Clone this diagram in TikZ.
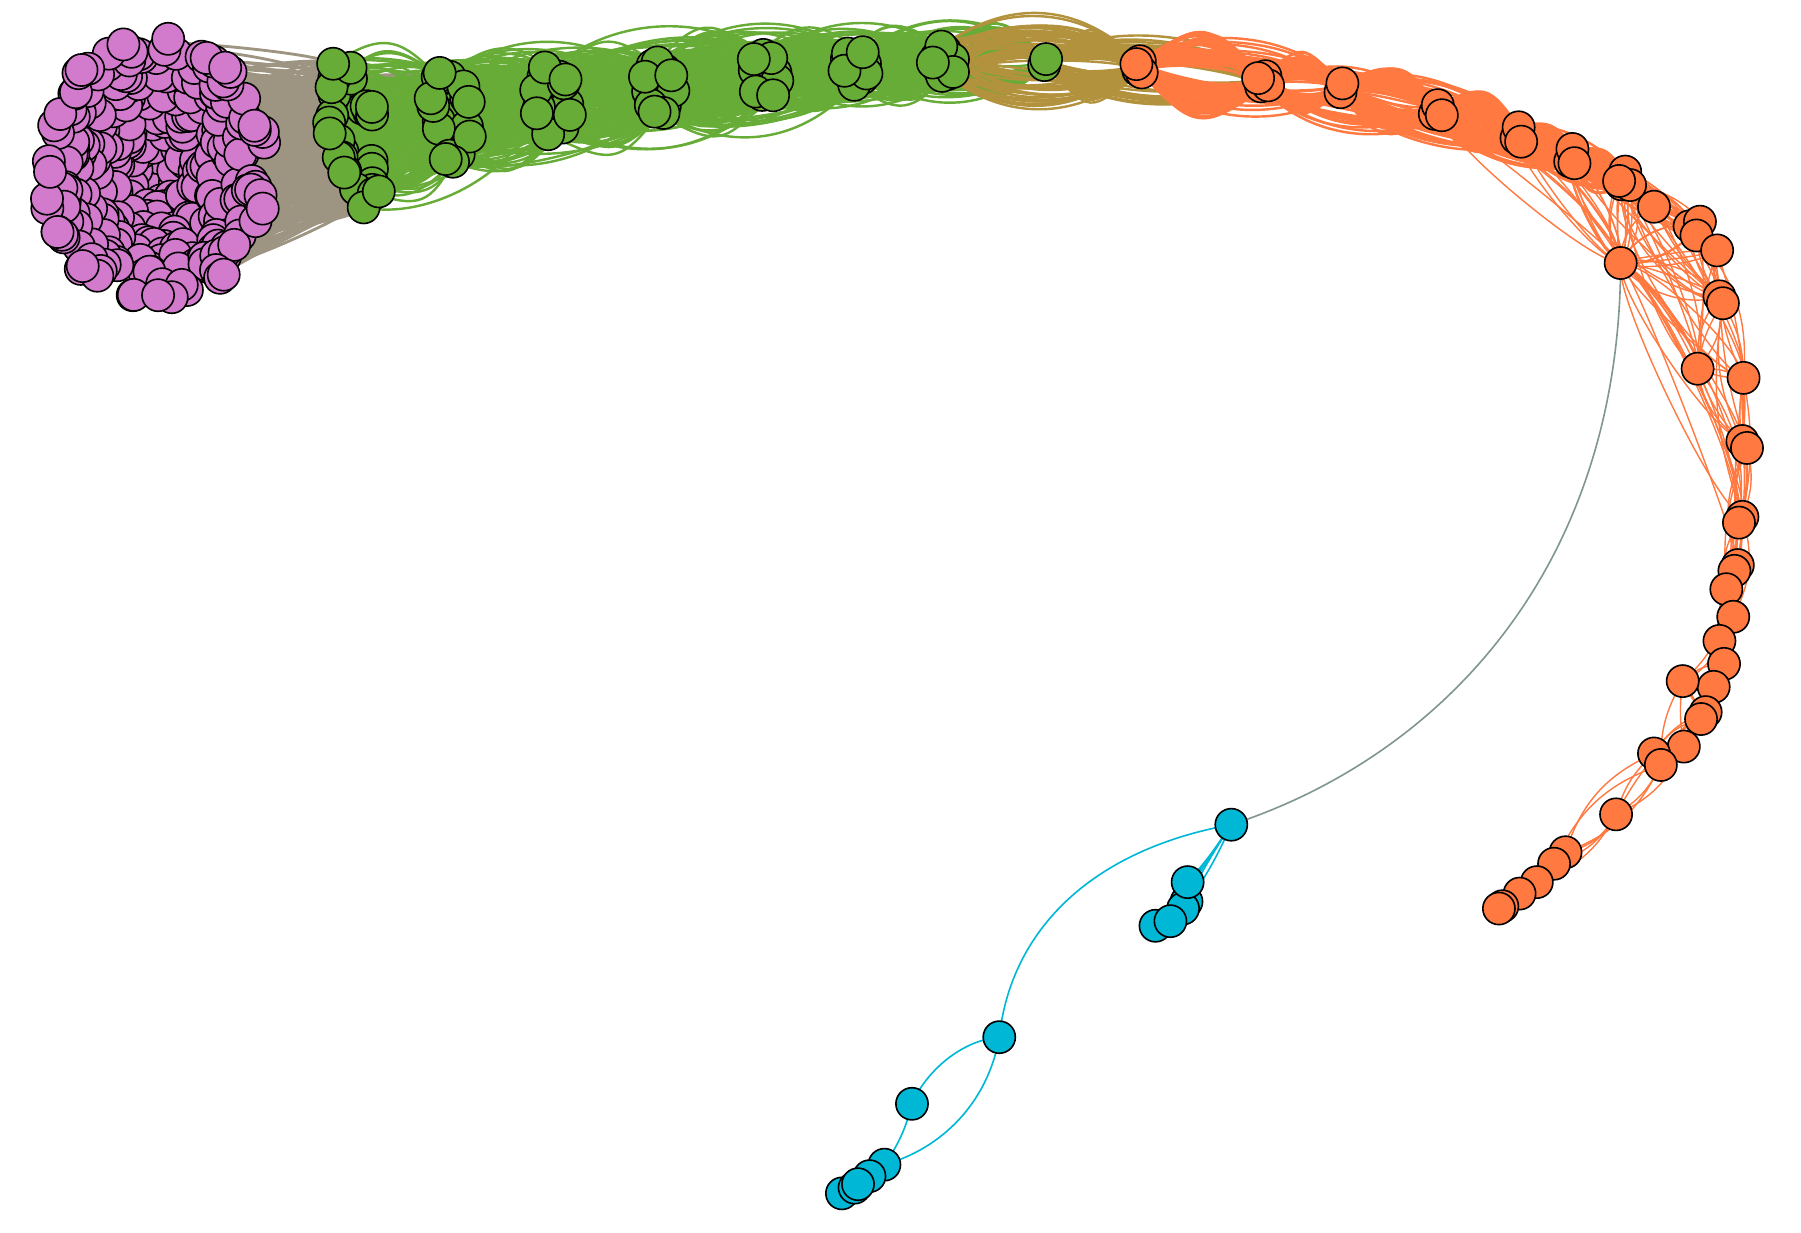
\documentclass[tikz,border=0pt]{standalone}
\pgfdeclarelayer{bg}
\pgfsetlayers{bg,main}
\definecolor{cpurple}{RGB}{210,122,203}
\definecolor{cgreen}{RGB}{103,172,55}
\definecolor{ctan}{RGB}{157,148,130}
\definecolor{cgold}{RGB}{178,146,60}
\definecolor{corange}{RGB}{255,121,64}
\definecolor{ccyan}{RGB}{0,183,214}
\definecolor{cgray}{RGB}{128,150,145}
\tikzset{
  vtx/.style={circle, draw=black, line width=0.4pt, inner sep=0pt, minimum size=0.28cm},
  pv/.style={vtx, fill=cpurple},
  gv/.style={vtx, fill=cgreen},
  ov/.style={vtx, fill=corange},
  bv/.style={vtx, fill=ccyan},
  edg/.style={line width=0.6pt},
  tE/.style={line width=0.7pt, draw=ctan},
  gE/.style={edg, draw=cgreen},
  dE/.style={edg, draw=cgold},
  oE/.style={edg, draw=corange},
  aE/.style={line width=0.35pt, draw=corange},
  cE/.style={line width=0.4pt, draw=ccyan},
  grE/.style={line width=0.4pt, draw=cgray},
}
% name, cx, cy, rx, ry, n, style, inner fraction, shear  (sunflower layout with jitter)
\newcommand\mkcluster[9]{%
  \foreach \k in {1,...,#6}{%
    \edef\cangi{\the\numexpr \k*1375-(\k*1375/3600)*3600\relax}%
    \pgfmathsetmacro\cang{\cangi/10+25*rand}%
    \pgfmathsetmacro\crad{min(1,sqrt(#8+(1-#8)*(\k-0.5)/#6)+0.06*rand)}%
    \pgfmathsetmacro\cdy{#5*\crad*sin(\cang)}%
    \node[#7] (#1-\k) at ({#2+#4*\crad*cos(\cang)+#9*\cdy},{#3+\cdy}) {};
  }}
% A, nA, B, nB, count, style, offset-fraction min, range
\newcommand\mkedges[8]{%
  \foreach \e in {1,...,#5}{%
    \pgfmathrandominteger\ea{1}{#2}%
    \pgfmathrandominteger\eb{1}{#4}%
    \pgfmathsetmacro\ebend{(rnd<0.5 ? -40 : 40)}%
    \pgfmathsetmacro\eloose{(#7+#8*rnd)/0.189}%
    \draw[#6] (#1-\ea.center) to[bend left=\ebend, looseness=\eloose] (#3-\eb.center);
  }}
\begin{document}
\begin{tikzpicture}[x=0.01cm,y=-0.01cm]
\useasboundingbox (0,0) rectangle (1568,1073);
\pgfmathsetseed{11}
% ---------- nodes ----------
\mkcluster{P}{135}{148}{98}{115}{300}{pv}{0}{0}
\mkcluster{Ga}{308}{116}{21}{65}{30}{gv}{0.35}{0.17}
\mkcluster{Gb}{393}{101}{18}{44}{22}{gv}{0.35}{0.12}
\mkcluster{Gc}{481}{88}{16}{33}{18}{gv}{0.35}{0.08}
\mkcluster{Gd}{574}{76}{14}{25}{14}{gv}{0.35}{0.08}
\mkcluster{Ge}{666}{66}{12}{22}{12}{gv}{0.35}{0.05}
\mkcluster{Gf}{745}{58}{11}{18}{10}{gv}{0.35}{0.05}
\mkcluster{Gg}{822}{54}{10}{15}{9}{gv}{0.35}{0}
\mkcluster{Gh}{911}{55}{3}{4}{2}{gv}{0.5}{0}
\mkcluster{Oa}{993}{58}{4}{6}{4}{ov}{0.5}{0}
\mkcluster{Ob}{1100}{71}{6}{6}{4}{ov}{0.5}{0}
\mkcluster{Oc}{1168}{77}{2}{5}{2}{ov}{0.5}{0}
\mkcluster{Od}{1252}{97}{4}{6}{3}{ov}{0.5}{0}
\mkcluster{Oe}{1323}{117}{4}{7}{3}{ov}{0.5}{0}
\mkcluster{Of}{1369}{136}{5}{7}{3}{ov}{0.5}{0}
\mkcluster{Og}{1415}{156}{6}{8}{4}{ov}{0.5}{0}
\foreach \x/\y [count=\i] in {1440/180, 1471/197, 1480/193, 1477/205, 1495/218,
  1497/258, 1500/264, 1478/321, 1518/329, 1517/384, 1521/390, 1517/450,
  1514/455, 1513/492, 1510/497, 1503/513, 1509/537, 1497/558, 1501/578,
  1492/598, 1465/593, 1485/620, 1481/626, 1466/650, 1440/656, 1446/666,
  1407/709, 1363/742, 1353/752, 1338/768, 1323/778, 1308/789, 1305/791}
  \node[ov] (A-\i) at (\x,\y) {};
\node[ov] (H-1) at (1411,229) {};
% blue
\node[bv] (bh) at (1072,718) {};
\node[bv] (bc-2) at (1033,785) {};
\node[bv] (bc-3) at (1030,791) {};
\node[bv] (bc-5) at (1006,806) {};
\node[bv] (bc-4) at (1019,802) {};
\node[bv] (bc-1) at (1034,768) {};
\node[bv] (bm) at (870,903) {};
\node[bv] (bs) at (794,961) {};
\node[bv] (bl-4) at (733,1039) {};
\node[bv] (bl-1) at (770,1014) {};
\node[bv] (bl-2) at (757,1024) {};
\node[bv] (bl-3) at (744,1034) {};
\node[bv] (bl-5) at (747,1031) {};
% ---------- edges ----------
\begin{pgfonlayer}{bg}
\mkedges{P}{300}{Ga}{30}{520}{tE}{0}{0.08}
\mkedges{P}{300}{Gb}{22}{90}{tE}{0}{0.06}
\mkedges{Ga}{30}{Gb}{22}{200}{gE}{0}{0.3}
\mkedges{Ga}{30}{Gc}{18}{50}{gE}{0}{0.2}
\mkedges{Gb}{22}{Gc}{18}{180}{gE}{0}{0.3}
\mkedges{Gb}{22}{Gd}{14}{50}{gE}{0}{0.2}
\mkedges{Gc}{18}{Gd}{14}{170}{gE}{0}{0.3}
\mkedges{Gc}{18}{Ge}{12}{45}{gE}{0}{0.2}
\mkedges{Gd}{14}{Ge}{12}{160}{gE}{0}{0.3}
\mkedges{Gd}{14}{Gf}{10}{40}{gE}{0}{0.2}
\mkedges{Ge}{12}{Gf}{10}{150}{gE}{0.02}{0.3}
\mkedges{Ge}{12}{Gg}{9}{40}{gE}{0}{0.2}
\mkedges{Gf}{10}{Gg}{9}{140}{gE}{0.03}{0.3}
\mkedges{Gf}{10}{Gh}{2}{25}{gE}{0.05}{0.18}
\mkedges{Gg}{9}{Gh}{2}{80}{gE}{0.1}{0.22}
\mkedges{Gg}{9}{Oa}{4}{60}{dE}{0.05}{0.16}
\mkedges{Gh}{2}{Oa}{4}{70}{dE}{0.12}{0.25}
\mkedges{Gh}{2}{Ob}{4}{40}{dE}{0.04}{0.12}
\mkedges{Oa}{4}{Ob}{4}{120}{oE}{0.08}{0.24}
\mkedges{Oa}{4}{Oc}{2}{30}{oE}{0.05}{0.14}
\mkedges{Ob}{4}{Oc}{2}{90}{oE}{0.12}{0.25}
\mkedges{Ob}{4}{Od}{3}{30}{oE}{0.05}{0.14}
\mkedges{Oc}{2}{Od}{3}{100}{oE}{0.08}{0.24}
\mkedges{Oc}{2}{Oe}{3}{30}{oE}{0.04}{0.14}
\mkedges{Od}{3}{Oe}{3}{100}{oE}{0.06}{0.26}
\mkedges{Od}{3}{Of}{3}{30}{oE}{0.03}{0.14}
\mkedges{Oe}{3}{Of}{3}{80}{oE}{0.02}{0.3}
\mkedges{Oe}{3}{Og}{4}{30}{oE}{0.02}{0.15}
\mkedges{Of}{3}{Og}{4}{80}{oE}{0.02}{0.3}
\mkedges{Od}{3}{H}{1}{4}{aE}{0.02}{0.08}
\mkedges{Oe}{3}{H}{1}{6}{aE}{0.02}{0.1}
\mkedges{Of}{3}{H}{1}{6}{aE}{0.02}{0.12}
\mkedges{Og}{4}{H}{1}{8}{aE}{0.02}{0.15}
\mkedges{Og}{4}{A}{9}{30}{aE}{0.02}{0.15}
\mkedges{Of}{3}{A}{6}{15}{aE}{0.02}{0.15}
\mkedges{H}{1}{A}{14}{24}{aE}{0.02}{0.15}
\foreach \i in {1,...,32}{
  \pgfmathtruncatemacro\j{\i+1}
  \pgfmathtruncatemacro\kk{min(\i+2,33)}
  \pgfmathtruncatemacro\mm{min(\i+3,33)}
  \pgfmathsetmacro\ba{(rnd<0.5 ? -1 : 1)*(5+20*rnd)}
  \pgfmathsetmacro\bb{(rnd<0.5 ? -1 : 1)*(5+20*rnd)}
  \pgfmathsetmacro\bc{(rnd<0.5 ? -1 : 1)*(5+20*rnd)}
  \draw[aE] (A-\i.center) to[bend left=\ba] (A-\j.center);
  \draw[aE] (A-\i.center) to[bend left=\bb] (A-\kk.center);
  \draw[aE] (A-\i.center) to[bend left=\bc] (A-\mm.center);
}
\foreach \i in {1,...,22}{
  \pgfmathtruncatemacro\j{\i+1}
  \pgfmathtruncatemacro\kk{\i+5}
  \pgfmathsetmacro\ba{(rnd<0.5 ? -1 : 1)*(5+20*rnd)}
  \pgfmathsetmacro\bb{(rnd<0.5 ? -1 : 1)*(5+20*rnd)}
  \draw[aE] (A-\i.center) to[bend left=\ba] (A-\j.center);
  \draw[aE] (A-\i.center) to[bend left=\bb] (A-\kk.center);
}
% gray inter-group edge
\draw[grE] (H-1.center) .. controls (1410,500) and (1250,660) .. (bh.center);
% blue edges
\draw[cE] (bh.center) .. controls (950,740) and (880,810) .. (bm.center);
\draw[cE] (bm.center) .. controls (835,906) and (805,935) .. (bs.center);
\draw[cE] (bm.center) .. controls (860,960) and (820,1000) .. (bl-1.center);
\draw[cE] (bs.center) to[bend left=10] (bl-1.center);
\foreach \t/\b in {1/4, 2/-3, 3/6, 4/-2, 5/3}
  \draw[cE] (bh.center) to[bend left=\b] (bc-\t.center);
\foreach \t in {2,...,5}
  \draw[cE] (bl-1.center) to (bl-\t.center);
\end{pgfonlayer}
\end{tikzpicture}
\end{document}
